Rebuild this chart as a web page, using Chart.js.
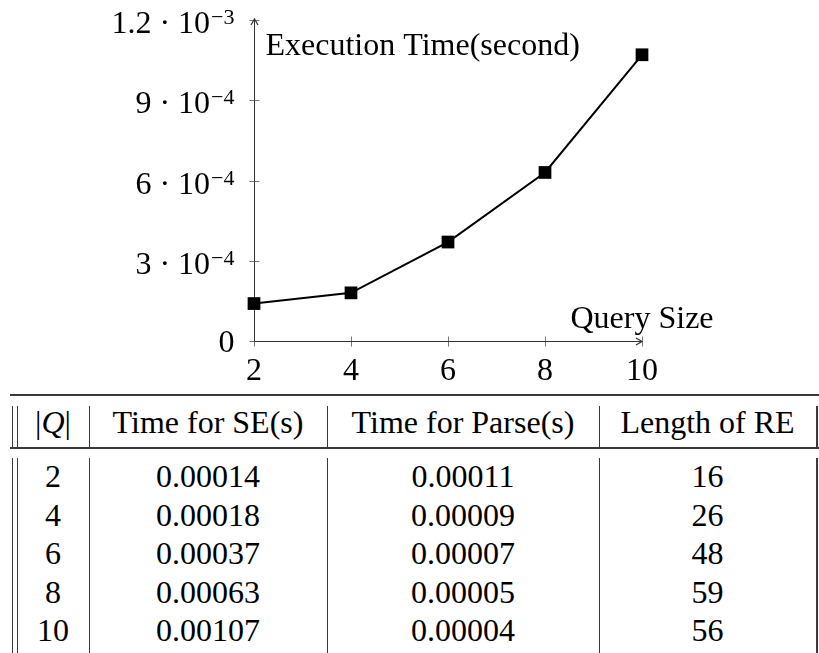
<!DOCTYPE html>
<html>
<head>
<meta charset="utf-8">
<script src="https://cdn.jsdelivr.net/npm/chart.js@4.4.1/dist/chart.umd.min.js"></script>
<style>
  html, body { margin: 0; padding: 0; background: #fff; }
  body { width: 819px; height: 653px; position: relative; overflow: hidden; font-family: "Liberation Serif", "Times New Roman", Tinos, "DejaVu Serif", serif; color: #000; }
  #plot { position: absolute; left: 0; top: 0; }
  .line { position: absolute; background: #3a3a3a; }
  .cell { position: absolute; font-size: 32px; line-height: 32px; white-space: nowrap; transform: translateX(-50%); }
</style>
</head>
<body>
<canvas id="plot" width="819" height="392"></canvas>
<div id="table"></div>
<script>
var querySizes = [2, 4, 6, 8, 10];
var seTimes = [0.00014, 0.00018, 0.00037, 0.00063, 0.00107];
var parseTimes = [0.00011, 0.00009, 0.00007, 0.00005, 0.00004];
var reLengths = [16, 26, 48, 59, 56];
var headers = ['|Q|', 'Time for SE(s)', 'Time for Parse(s)', 'Length of RE'];
var xTitle = 'Query Size';
var yTitle = 'Execution Time(second)';

var FONT = '"Liberation Serif", "Times New Roman", Tinos, "DejaVu Serif", serif';

function splitSci(v) {
    if (Math.abs(v) < 1e-12) return null;
    var exp = Math.floor(Math.log10(v) + 1e-9);
    var mant = Math.round(v / Math.pow(10, exp) * 10) / 10;
    return { mant: String(mant), exp: exp };
}

var axesPlugin = {
    id: 'axes',
    beforeDatasetsDraw: function(chart) {
        var ctx = chart.ctx;
        var xs = chart.scales.x, ys = chart.scales.y;
        var x0 = Math.round(xs.getPixelForValue(xs.min)) + 0.5;
        var y0 = Math.round(ys.getPixelForValue(0)) + 0.5;
        var xEnd = xs.right, yEnd = ys.top - 1;
        ctx.save();

        // tick marks
        ctx.strokeStyle = '#777';
        ctx.lineWidth = 1;
        xs.ticks.forEach(function(t) {
            var px = Math.round(xs.getPixelForValue(t.value)) + 0.5;
            ctx.beginPath(); ctx.moveTo(px, y0 - 5); ctx.lineTo(px, y0 + 5); ctx.stroke();
        });
        ys.ticks.forEach(function(t) {
            var py = Math.round(ys.getPixelForValue(t.value)) + 0.5;
            ctx.beginPath(); ctx.moveTo(x0 - 5, py); ctx.lineTo(x0 + 5, py); ctx.stroke();
        });

        // axis lines with arrows
        ctx.strokeStyle = '#333';
        ctx.beginPath();
        ctx.moveTo(x0, y0); ctx.lineTo(xEnd, y0);
        ctx.moveTo(x0, y0); ctx.lineTo(x0, yEnd);
        ctx.stroke();
        ctx.lineWidth = 1.2;
        ctx.beginPath();
        ctx.moveTo(xEnd - 6, y0 - 3.5); ctx.lineTo(xEnd, y0); ctx.lineTo(xEnd - 6, y0 + 3.5);
        ctx.moveTo(x0 - 3.5, yEnd + 6); ctx.lineTo(x0, yEnd); ctx.lineTo(x0 + 3.5, yEnd + 6);
        ctx.stroke();

        // tick labels
        ctx.fillStyle = '#000';
        ctx.textBaseline = 'alphabetic';
        ctx.font = '32px ' + FONT;
        ctx.textAlign = 'center';
        xs.ticks.forEach(function(t) {
            ctx.fillText(String(t.value), xs.getPixelForValue(t.value), y0 + 38);
        });
        ys.ticks.forEach(function(t) {
            var py = ys.getPixelForValue(t.value);
            var right = x0 - 20;
            var s = splitSci(t.value);
            if (!s) {
                ctx.font = '32px ' + FONT;
                ctx.textAlign = 'right';
                ctx.fillText('0', right, py + 11);
                return;
            }
            var main = s.mant + ' \u00b7 10';
            var sup = '\u2212' + Math.abs(s.exp);
            ctx.font = '22px ' + FONT;
            var wSup = ctx.measureText(sup).width;
            ctx.textAlign = 'left';
            ctx.fillText(sup, right - wSup, py + 4);
            ctx.font = '32px ' + FONT;
            ctx.textAlign = 'right';
            ctx.fillText(main, right - wSup - 1, py + 13);
        });

        // axis titles
        ctx.font = '32px ' + FONT;
        ctx.textAlign = 'left';
        ctx.fillText(yTitle, x0 + 11, ys.top + 35);
        ctx.textAlign = 'center';
        ctx.fillText(xTitle, xs.right, y0 - 14);
        ctx.restore();
    }
};

new Chart(document.getElementById('plot'), {
    type: 'line',
    data: {
        datasets: [{
            data: querySizes.map(function(q, i) { return { x: q, y: seTimes[i] }; }),
            borderColor: '#000',
            borderWidth: 2,
            backgroundColor: '#000',
            pointStyle: 'rect',
            pointRadius: 9,
            pointBorderWidth: 0,
            pointBackgroundColor: '#000',
            tension: 0,
            clip: false
        }]
    },
    options: {
        responsive: false,
        devicePixelRatio: 1,
        animation: false,
        layout: { autoPadding: false, padding: { left: 0, top: 20, right: 177, bottom: 0 } },
        plugins: { legend: { display: false }, tooltip: { enabled: false } },
        scales: {
            x: {
                type: 'linear', min: 2, max: 10,
                ticks: { stepSize: 2, display: false },
                grid: { display: false }, border: { display: false },
                afterFit: function(s) { s.height = 51; }
            },
            y: {
                type: 'linear', min: 0, max: 0.0012,
                ticks: { stepSize: 0.0003, display: false },
                grid: { display: false }, border: { display: false },
                afterFit: function(s) { s.width = 254; }
            }
        }
    },
    plugins: [axesPlugin]
});

// table under the chart
var table = document.getElementById('table');
var colEdges = [17, 89, 327, 599, 816];

function addLine(left, top, width, height) {
    var d = document.createElement('div');
    d.className = 'line';
    d.style.left = left + 'px'; d.style.top = top + 'px';
    d.style.width = width + 'px'; d.style.height = height + 'px';
    table.appendChild(d);
}

function addCell(html, center, baseline) {
    var d = document.createElement('div');
    d.className = 'cell';
    d.innerHTML = html;
    d.style.left = center + 'px';
    d.style.top = (baseline - 27) + 'px';
    table.appendChild(d);
}

addLine(10, 394, 809, 2);
addLine(10, 447, 809, 2);
[12].concat(colEdges).forEach(function(x, i) {
    var w = (i == colEdges.length) ? 1.6 : 1;
    addLine(x, 406, w, 41);
    addLine(x, 458, w, 195);
});

headers.forEach(function(h, c) {
    var html = h.replace('Q', '<i>Q</i>');
    addCell(html, (colEdges[c] + colEdges[c + 1]) / 2, 433);
});

querySizes.forEach(function(q, r) {
    var row = [String(q), seTimes[r].toFixed(5), parseTimes[r].toFixed(5), String(reLengths[r])];
    row.forEach(function(txt, c) {
        addCell(txt, (colEdges[c] + colEdges[c + 1]) / 2, 487 + r * 38.5);
    });
});
</script>
</body>
</html>
